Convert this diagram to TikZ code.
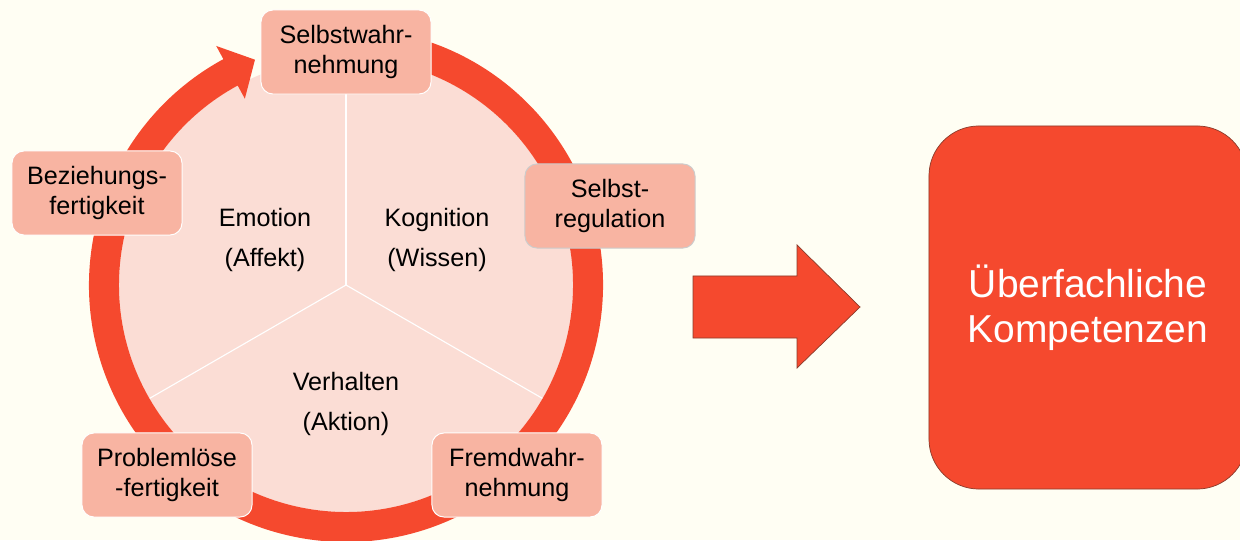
\documentclass[tikz,border=0pt]{standalone}
\usepackage{fontspec}
\setmainfont{Liberation Sans}
\usepackage{xcolor}
\usetikzlibrary{positioning,calc}

\definecolor{bg}{HTML}{FFFEF3}
\definecolor{ringred}{HTML}{F5492E}
\definecolor{piefill}{HTML}{FBDDD5}
\definecolor{boxfill}{HTML}{F8B4A2}
\definecolor{edgebrown}{HTML}{8A3B2B}

\begin{document}
\begin{tikzpicture}[x=0.025cm, y=0.025cm, box/.style={draw=white, line width=0.7pt, fill=boxfill, rounded corners=0.3cm, minimum width=4.25cm, minimum height=2.1cm, align=center, inner sep=2pt, font=\fontsize{17.9}{20.8}\selectfont}, seg/.style={align=center, font=\fontsize{17.9}{28.5}\selectfont}]
    \useasboundingbox[fill=bg] (0,0) rectangle (1240,540);

    % circle with three parts
    \coordinate (M) at (346,255);
    \node[circle, fill=piefill, minimum size=11.35cm, inner sep=0pt] (P) at (M) {};
    \foreach \a in {90,210,330}
        \draw[white, line width=0.8pt] (P.center) -- (P.\a);

    % ring arrow
    \fill[ringred] ($(M)+(80:257)$) arc[start angle=80, end angle=-241.5, radius=257]
        -- ($(M)+(118.5:272)$) -- ($(M)+(112:243)$) -- ($(M)+(118.5:212)$)
        -- ($(M)+(118.5:227)$) arc[start angle=118.5, end angle=440, radius=227] -- cycle;

    \node[seg] (S1) at (265,300) {Emotion\\(Affekt)};
    \node[seg] (S2) at (437,300) {Kognition\\(Wissen)};
    \node[seg] (S3) at (346,136) {Verhalten\\(Aktion)};

    \node[box] (A) at (346,488) {Selbstwahr-\\nehmung};
    \node[box, draw=black!20] (B) at (610,334) {Selbst-\\regulation};
    \node[box] (D) at (517,65) {Fremdwahr-\\nehmung};
    \node[box] (E) at (167,65) {Problemlöse\\-fertigkeit};
    \node[box] (F) at (97,347) {Beziehungs-\\fertigkeit};

    % big arrow
    \draw[edgebrown, fill=ringred, line width=0.5pt] (693,264) -- (797,264) -- (797,295) -- (860,233)
        -- (797,172) -- (797,202) -- (693,202) -- cycle;

    \node[draw=edgebrown, line width=0.5pt, fill=ringred, rounded corners=1.25cm, minimum width=7.95cm, minimum height=9.075cm, align=center, text=white, font=\fontsize{27.7}{32}\selectfont] (K) at (1088,232.5) {Überfachliche\\Kompetenzen};
\end{tikzpicture}
\end{document}
